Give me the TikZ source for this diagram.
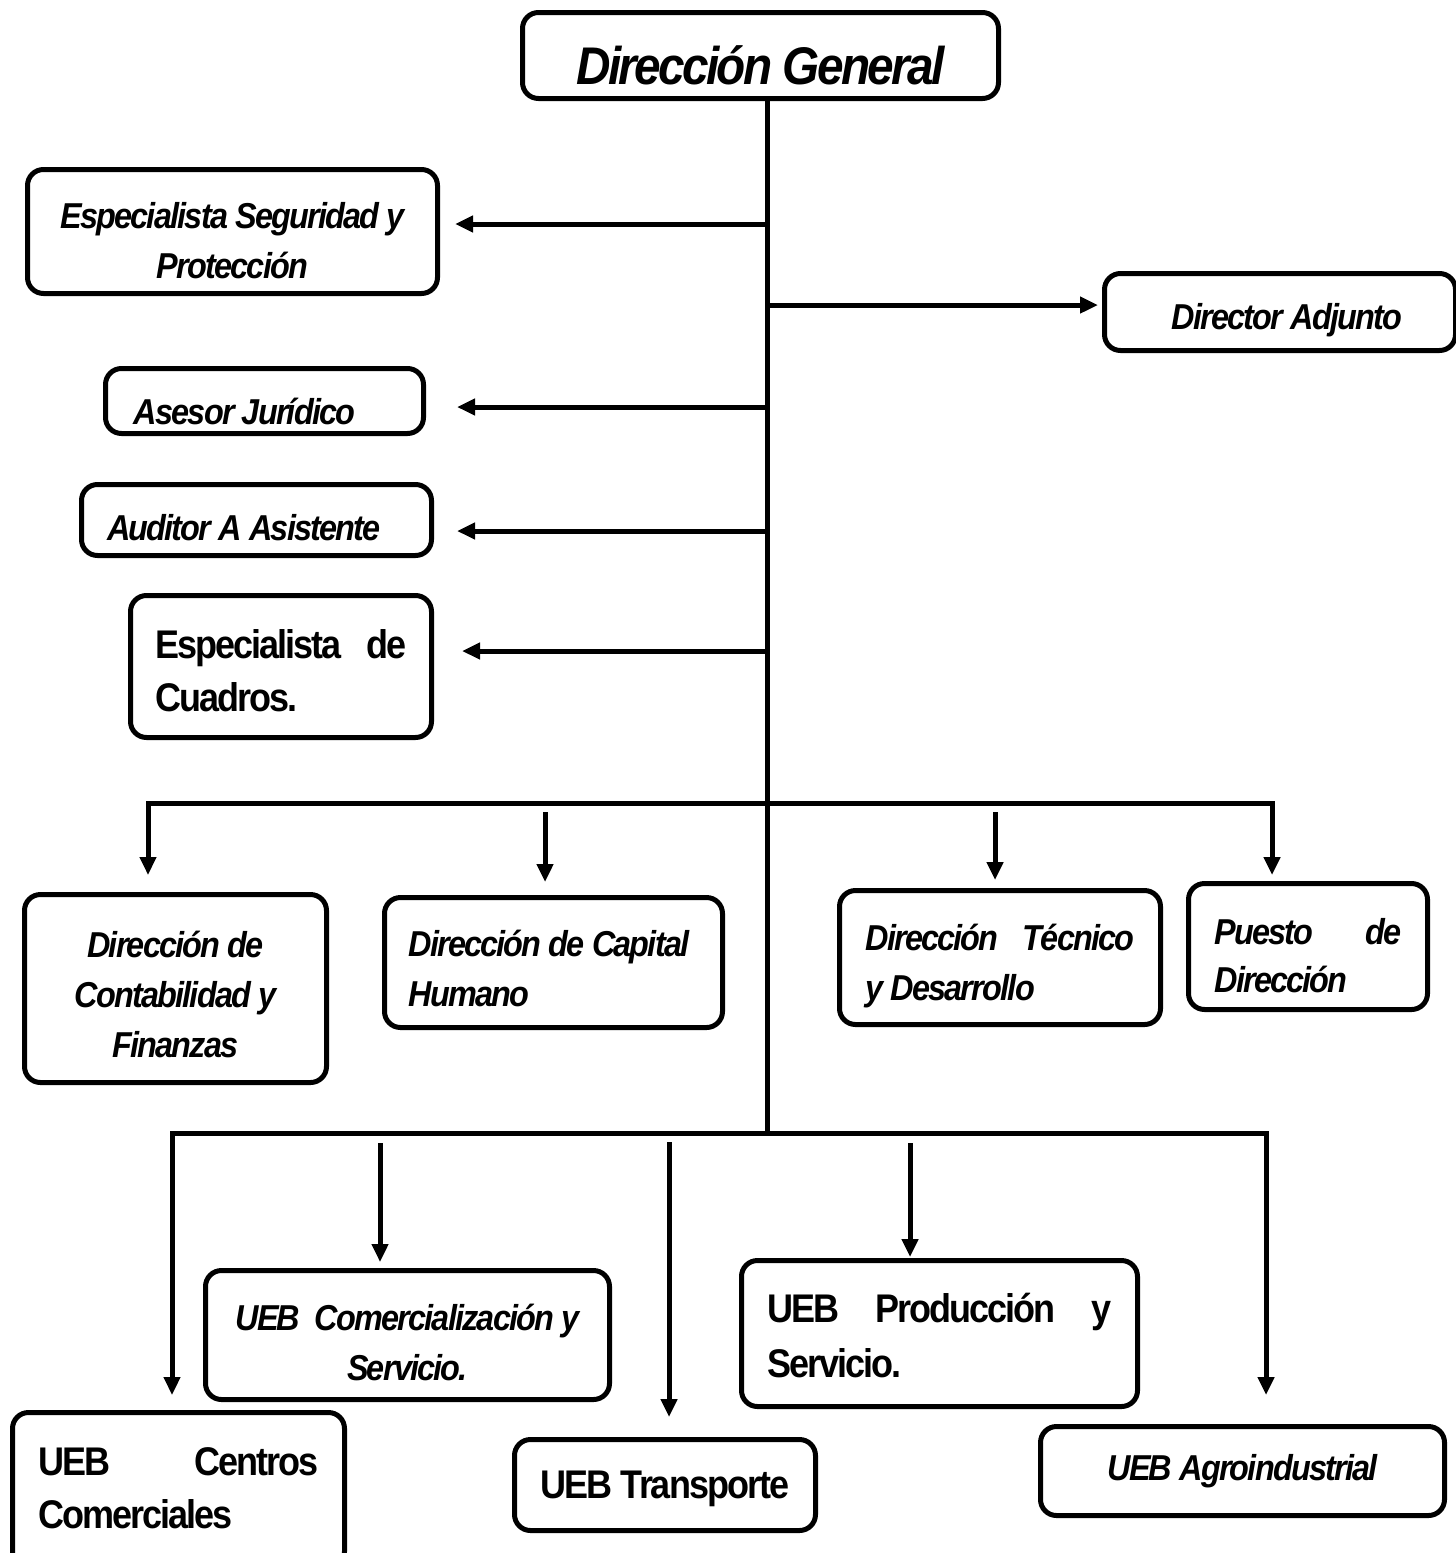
\documentclass[tikz,border=0pt]{standalone}
\usepackage{fontspec}
\setmainfont{Liberation Sans}[FakeStretch=0.9,LetterSpace=-5]
\usetikzlibrary{arrows.meta}
% #1 = extra height added on top (moves the text down by half of it)
\newcommand\mytx[3]{\raisebox{0pt}[\dimexpr\height+#1\relax]{\begin{tabular}{@{}#2@{}}#3\end{tabular}}}
\newcommand\mydn[2]{\raisebox{0pt}[\dimexpr\height+#1\relax]{#2}}
\begin{document}
\begin{tikzpicture}[x=0.5pt,y=-0.5pt,
  box/.style={draw, line width=2.5pt, rounded corners=8pt, inner sep=0pt,
    font=\bfseries\itshape\fontsize{18}{25}\selectfont},
  upr/.style={font=\bfseries\fontsize{20}{26.5}\selectfont},
  conn/.style={line width=2.5pt, line cap=rect},
  arr/.style={line width=2.5pt, -{Triangle[length=9pt,width=8pt]}},
]
\useasboundingbox (0,0) rectangle (1456,1553);

% boxes
\node[box, minimum width=238pt, minimum height=43pt, font=\bfseries\itshape\fontsize{26.5}{30}\selectfont]
  (gen) at (760.5,55.5) {\mydn{10pt}{Dirección General}};
\node[box, minimum width=205pt, minimum height=62pt]
  (seg) at (232.5,231.5) {\mytx{12pt}{c}{Especialista Seguridad y\\Protección}};
\node[box, minimum width=175.5pt, minimum height=38.5pt]
  (adj) at (1280,312) {\mydn{8pt}{\hspace*{7pt}Director Adjunto}};
\node[box, minimum width=159pt, minimum height=32.5pt]
  (ase) at (264.5,401) {\mydn{10pt}{Asesor Jurídico}\hspace*{20pt}};
\node[box, minimum width=175pt, minimum height=35.5pt]
  (aud) at (256.5,520) {\mydn{8pt}{Auditor A Asistente}\hspace*{12.5pt}};
\node[box, upr, minimum width=150.5pt, minimum height=71pt]
  (cua) at (281,666.5) {\mytx{8pt}{p{125.5pt}}{Especialista\hfill de\\Cuadros.}};
\node[box, minimum width=151pt, minimum height=94pt]
  (con) at (175.5,988.5) {\mytx{9pt}{c}{Dirección de\\Contabilidad y\\Finanzas}};
\node[box, minimum width=169pt, minimum height=65pt]
  (cap) at (553.5,962.5) {\mytx{9pt}{p{145pt}}{Dirección de Capital\\Humano}};
\node[box, minimum width=160.5pt, minimum height=67pt]
  (tec) at (1000,957.5) {\mytx{8pt}{p{134.5pt}}{Dirección\hfill Técnico\\y Desarrollo}};
\node[box, minimum width=119.5pt, minimum height=63pt,
  font=\bfseries\itshape\fontsize{18}{24}\selectfont]
  (pue) at (1308,946.5) {\mytx{12pt}{p{93.5pt}}{Puesto\hfill de\\Dirección}};
\node[box, minimum width=202pt, minimum height=64.5pt]
  (com) at (407.5,1335) {\mytx{10pt}{c}{UEB\ \ Comercialización y\\Servicio.}};
\node[box, upr, minimum width=166pt, minimum height=77.5pt]
  (cen) at (178.5,1490) {\mytx{1.5pt}{p{140pt}}{UEB\hfill Centros\\Comerciales}};
\node[box, upr, minimum width=150.5pt, minimum height=45.5pt]
  (tra) at (665,1485) {\mydn{4pt}{UEB Transporte}};
\node[box, minimum width=198pt, minimum height=73pt,
  font=\bfseries\fontsize{20}{27.5}\selectfont]
  (pro) at (939.5,1333.5) {\mytx{5pt}{p{172pt}}{UEB\hfill Producción\hfill y\\Servicio.}};
\node[box, minimum width=202pt, minimum height=44.5pt]
  (agr) at (1242.5,1471) {UEB Agroindustrial};

% trunk
\coordinate (tk) at (767,1133);
\draw[conn] (tk |- gen.south) -- (tk);

% side arrows
\coordinate (h1) at (767,224);
\coordinate (h2) at (767,305);
\coordinate (h3) at (767,407);
\coordinate (h4) at (767,531);
\coordinate (h5) at (767,651);
\draw[arr, shorten >=7.5pt] (h1) -- (h1 -| seg.east);
\draw[arr, shorten >=2pt]   (h2) -- (h2 -| adj.west);
\draw[arr, shorten >=15.5pt] (h3) -- (h3 -| ase.east);
\draw[arr, shorten >=11.5pt] (h4) -- (h4 -| aud.east);
\draw[arr, shorten >=14pt]  (h5) -- (h5 -| cua.east);

% first bar
\coordinate (b1l) at (148,803);
\coordinate (b1r) at (1272,803);
\coordinate (d1) at (545,812);
\coordinate (d2) at (995,812);
\draw[conn] (b1l) -- (b1r);
\draw[arr, shorten >=8.5pt] (b1l) -- (b1l |- con.north);
\draw[arr, shorten >=6.5pt] (d1) -- (d1 |- cap.north);
\draw[arr, shorten >=4pt]   (d2) -- (d2 |- tec.north);
\draw[arr, shorten >=3pt]   (b1r) -- (b1r |- pue.north);

% second bar
\coordinate (b2l) at (172,1133);
\coordinate (b2r) at (1266,1133);
\coordinate (e1) at (380,1143);
\coordinate (e2) at (669,1142);
\coordinate (e3) at (910,1143);
\draw[conn] (b2l) -- (b2r);
\draw[arr, shorten >=7.5pt] (b2l) -- (b2l |- cen.north);
\draw[arr, shorten >=3pt]   (e1) -- (e1 |- com.north);
\draw[arr, shorten >=10pt]  (e2) -- (e2 |- tra.north);
\draw[arr, shorten >=0.5pt] (e3) -- (e3 |- pro.north);
\draw[arr, shorten >=14.5pt] (b2r) -- (b2r |- agr.north);
\end{tikzpicture}
\end{document}
